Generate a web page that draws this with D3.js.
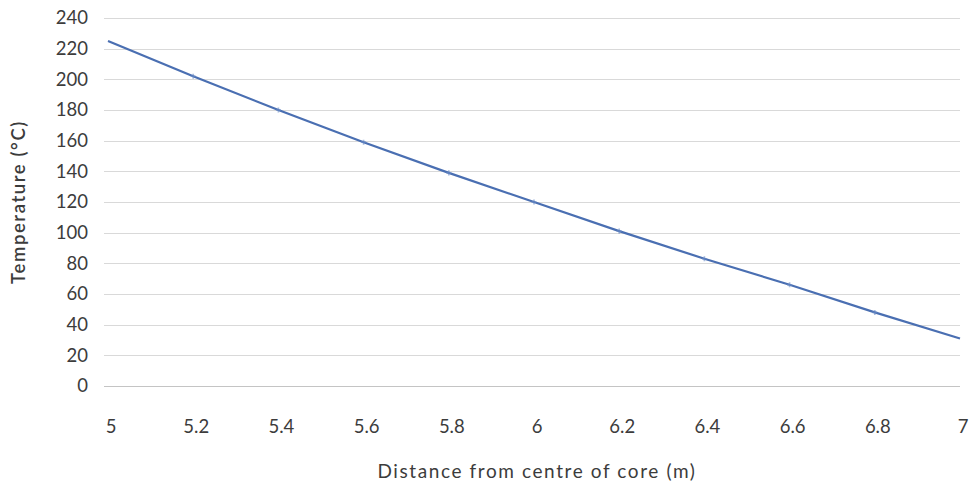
<!DOCTYPE html>
<html>
<head>
<meta charset="utf-8">
<script src="https://cdn.jsdelivr.net/npm/d3@7"></script>
<style>
  html, body { margin: 0; padding: 0; background: #fff; }
  svg { display: block; }
  text { font-family: Lato, "Open Sans", sans-serif; fill: #3c3c3c; }
</style>
</head>
<body>
<svg id="chart" width="969" height="483"></svg>
<script>
// Temperature profile through the core wall
const distance = [5.0, 5.2, 5.4, 5.6, 5.8, 6.0, 6.2, 6.4, 6.6, 6.8, 7.0];
const temperature = [225, 202, 180, 159, 139, 120, 101, 83, 66, 48, 31];
const xTicks = [5, 5.2, 5.4, 5.6, 5.8, 6, 6.2, 6.4, 6.6, 6.8, 7];
const yTicks = [0, 20, 40, 60, 80, 100, 120, 140, 160, 180, 200, 220, 240];
const xTitle = "Distance from centre of core (m)";
const yTitle = "Temperature (°C)";

const svg = d3.select("#chart");
const margin = { left: 108, right: 9, top: 18, bottom: 97 };
const W = 969, H = 483;

const x = d3.scaleLinear().domain([5, 7]).range([margin.left, W - margin.right]);
const y = d3.scaleLinear().domain([0, 240]).range([H - margin.bottom, margin.top]);

// horizontal gridlines
svg.append("g")
  .selectAll("line")
  .data(yTicks)
  .join("line")
  .attr("x1", x(5) - 4)
  .attr("x2", x(7))
  .attr("y1", d => Math.round(y(d)) + 0.5)
  .attr("y2", d => Math.round(y(d)) + 0.5)
  .attr("stroke", d => d === 0 ? "#c4c4c4" : "#d9d9d9")
  .attr("stroke-width", 1);

// y tick labels
svg.append("g")
  .selectAll("text")
  .data(yTicks)
  .join("text")
  .attr("x", 88)
  .attr("y", d => y(d))
  .attr("dy", "0.35em")
  .attr("text-anchor", "end")
  .attr("font-size", 18.5)
  .text(d => d);

// x tick labels
const fmt = d3.format("~g");
svg.append("g")
  .selectAll("text")
  .data(xTicks)
  .join("text")
  .attr("x", d => x(d) + 3)
  .attr("y", 433)
  .attr("text-anchor", "middle")
  .attr("font-size", 18.5)
  .text(d => fmt(d));

// axis titles
svg.append("text")
  .attr("x", (x(5) + x(7)) / 2 + 3)
  .attr("y", 478)
  .attr("text-anchor", "middle")
  .attr("font-size", 19)
  .attr("letter-spacing", 1.6)
  .text(xTitle);

svg.append("text")
  .attr("transform", `translate(25, 202) rotate(-90)`)
  .attr("text-anchor", "middle")
  .attr("font-size", 18.5)
  .attr("font-weight", 600)
  .attr("letter-spacing", 1.6)
  .text(yTitle);

// temperature line
const pts = distance.map((d, i) => [d, temperature[i]]);
svg.append("path")
  .datum(pts)
  .attr("fill", "none")
  .attr("stroke", "#4a6fb2")
  .attr("stroke-width", 2.2)
  .attr("stroke-linejoin", "round")
  .attr("d", d3.line().x(d => x(d[0])).y(d => y(d[1])));

// small cross markers at each reading
svg.append("g")
  .selectAll("path")
  .data(pts.slice(1, -1))
  .join("path")
  .attr("d", d3.symbol(d3.symbolCross, 14))
  .attr("transform", d => `translate(${x(d[0])},${y(d[1])})`)
  .attr("fill", "#6a8cc6")
  .attr("opacity", 0.6);
</script>
</body>
</html>
